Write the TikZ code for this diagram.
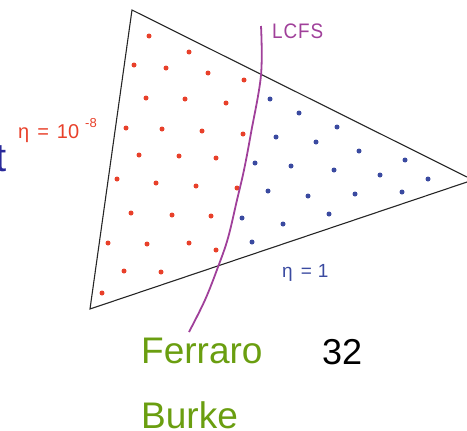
\documentclass[tikz,border=0pt]{standalone}
\usepackage{fontspec}
\setmainfont{Liberation Sans}
\definecolor{dotred}{HTML}{E8402A}
\definecolor{dotblue}{HTML}{3A4AA0}
\definecolor{lcfs}{HTML}{A0409A}
\definecolor{fgreen}{HTML}{6A9E10}
\definecolor{tblue}{HTML}{2A2A9A}
\begin{document}
\begin{tikzpicture}[x=1pt,y=-1pt,
  tri/.style={draw=black!85,line width=1.1pt,line join=miter},
  rdot/.style={fill=dotred},
  bdot/.style={fill=dotblue},
  sep/.style={draw=lcfs,line width=1.8pt},
  lbl/.style={inner sep=0pt,anchor=north west}]
\useasboundingbox (0,0) rectangle (467,431);
\clip (0,0) rectangle (467,431);
% triangle
\draw[tri] (132,10) -- (473,180) -- (90,309) -- cycle;
% red dots
\foreach \p in {(149,36),(189,52),(134,65),(166,68),(208,73),(244,80),
  (146,98),(185,99),(226,103),
  (126,128),(162,129),(202,131),(243,134),
  (139,155),(179,156),(216,158),
  (117,179),(156,183),(196,186),(237,188),
  (131,213),(172,215),(211,216),
  (108,243),(147,244),(189,243),(216,250),
  (124,271),(161,272),(102,293)}
  \fill[rdot] \p circle (2.5);
% blue dots
\foreach \p in {(270,99),(299,113),(337,127),
  (276,137),(316,142),(359,151),
  (255,163),(291,166),(334,170),(380,175),(405,160),(428,179),
  (268,191),(308,196),(355,194),(402,192),
  (242,218),(283,224),(329,214),(252,242)}
  \fill[bdot] \p circle (2.5);
% LCFS curve
\draw[sep] plot[smooth,tension=0.6] coordinates {(261,26) (261,75) (251,133) (244,170) (237,200) (228,238) (218,267) (205,300) (189,332)};
% labels
\node[lbl,text=lcfs,font=\fontsize{21}{21}\selectfont,xscale=0.9] (lcfsl) at (272,24) {L\kern1pt C\kern1pt F\kern1pt S};
\node[lbl,text=dotred,font=\fontsize{20}{20}\selectfont,anchor=base west] (etaa) at (18,139) {η\hspace{8pt}=\hspace{8pt}10\raisebox{12pt}{\fontsize{13}{13}\selectfont\hspace{6pt}-8}};
\node[lbl,text=dotblue,font=\fontsize{19}{19}\selectfont,anchor=base west] (etab) at (282,277) {η\hspace{8pt}=\hspace{6pt}1};
\node[lbl,text=tblue,font=\fontsize{40}{40}\selectfont,anchor=base east] (tt) at (7,171) {t};
\node[lbl,text=fgreen,font=\fontsize{37}{37}\selectfont,anchor=base west] (fer) at (141,363) {Ferraro};
\node[lbl,text=fgreen,font=\fontsize{37}{37}\selectfont,anchor=base west] (bur) at (141,428) {Burke};
\node[lbl,text=black,font=\fontsize{36}{36}\selectfont,anchor=base west] (num) at (322,364) {32};
\end{tikzpicture}
\end{document}
